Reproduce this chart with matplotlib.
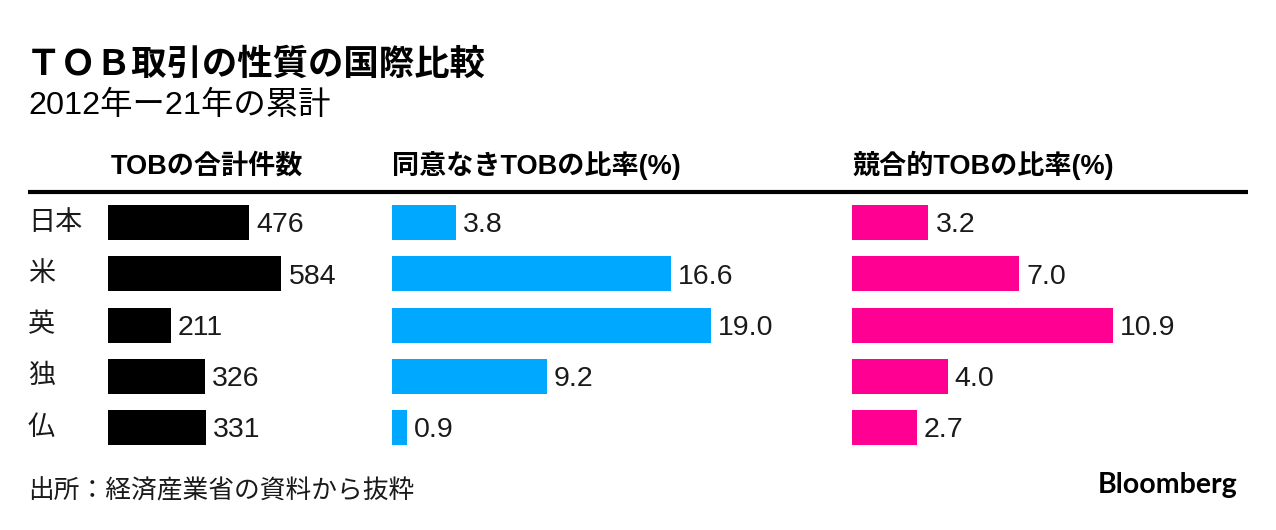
import matplotlib
matplotlib.use("Agg")
import matplotlib.pyplot as plt

# ---- data ----
countries = ["日本", "米", "英", "独", "仏"]
tob_total = [476, 584, 211, 326, 331]
hostile_pct = [3.8, 16.6, 19.0, 9.2, 0.9]
competing_pct = [3.2, 7.0, 10.9, 4.0, 2.7]
headers = ["TOBの合計件数", "同意なきTOBの比率(%)", "競合的TOBの比率(%)"]
title = "ＴＯＢ取引の性質の国際比較"
subtitle = "2012年ー21年の累計"
source = "出所：経済産業省の資料から抜粋"

W, H = 1276, 530
DPI = 100
fig = plt.figure(figsize=(W / DPI, H / DPI), dpi=DPI)
fig.patch.set_facecolor("white")

LAT = ["Liberation Sans", "Noto Sans CJK JP"]
CJK = ["Noto Sans CJK JP", "Liberation Sans"]


def fx(x):
    return x / W


def fy(y):
    return 1 - y / H


def ftext(x, y, s, **kw):
    fig.text(fx(x), fy(y), s, **kw)


# titles
ftext(26, 75, title, fontsize=25.5, fontweight="bold", family=CJK, va="baseline")
ftext(28, 114, subtitle, fontsize=23.3, family=LAT, va="baseline")

# header rule
fig.add_artist(plt.Line2D([fx(28), fx(1248)], [fy(192), fy(192)], color="black",
                          linewidth=3.0, solid_capstyle="butt"))

# panels
row_top, row_h = 196.875, 51.25
n = len(countries)
ax_top = row_top
ax_bot = row_top + row_h * n
panels = [
    dict(left=108, width=250, scale=0.297, vals=tob_total, color="#000000", fmt="{:d}", hx=111),
    dict(left=392, width=420, scale=16.8, vals=hostile_pct, color="#00a9ff", fmt="{:.1f}", hx=392),
    dict(left=852, width=390, scale=23.9, vals=competing_pct, color="#ff0093", fmt="{:.1f}", hx=853),
]

VFS = 20.5
for p, head in zip(panels, headers):
    ax = fig.add_axes([fx(p["left"]), fy(ax_bot), p["width"] / W, (ax_bot - ax_top) / H])
    ax.set_xlim(0, p["width"] / p["scale"])
    ax.set_ylim(n - 0.5, -0.5)
    ypos = list(range(n))
    ax.barh(ypos, p["vals"], height=35 / row_h, color=p["color"], align="center")
    for i, v in enumerate(p["vals"]):
        ax.annotate(p["fmt"].format(v), xy=(v, i), xytext=(5, -0.35 * VFS),
                    textcoords="offset points", ha="left", va="baseline",
                    fontsize=VFS, family=LAT, color="#1a1a1a")
    ax.axis("off")
    ftext(p["hx"], 174, head, fontsize=19.5, fontweight="bold", family=LAT, va="baseline")

# row labels
for i, c in enumerate(countries):
    yc = row_top + row_h * (i + 0.5)
    ftext(28, yc + 7, c, fontsize=19.5, family=CJK, va="baseline", color="#1a1a1a")

# footer
ftext(28, 498, source, fontsize=18.5, family=CJK, va="baseline", color="#1a1a1a")
ftext(1237, 493, "Bloomberg", fontsize=20.5, fontweight="bold", family=["Lato", "DejaVu Sans"],
      ha="right", va="baseline")

fig.savefig("out.png", dpi=DPI, facecolor="white")
